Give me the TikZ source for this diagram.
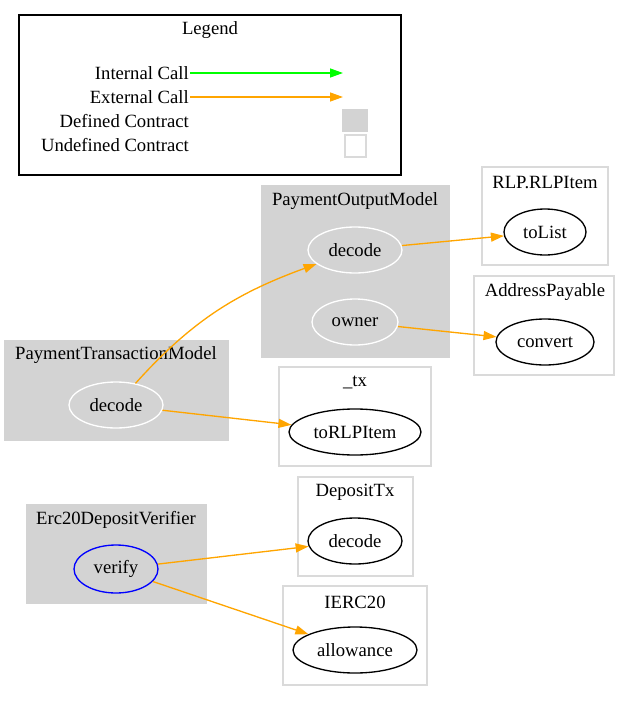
\documentclass[tikz,border=0pt]{standalone}
\usepackage{fontspec}
\setmainfont{Liberation Serif}
\usetikzlibrary{shapes.geometric,arrows.meta}
\definecolor{clgray}{RGB}{211,211,211}
\definecolor{bdgray}{RGB}{218,218,218}
\definecolor{extorange}{RGB}{255,165,0}
\definecolor{intgreen}{RGB}{0,255,0}
\tikzset{
  defined/.style={fill=clgray, draw=clgray},
  undefined/.style={draw=bdgray, fill=white, line width=1.33pt},
  fn/.style={ellipse, draw=black, line width=1.33pt, inner sep=0pt, minimum height=46pt},
  infn/.style={fn, draw=white},
  call/.style={-{Triangle[length=13pt,width=9pt]}, line width=1.33pt},
  ext/.style={call, extorange},
}

\begin{document}
\begin{tikzpicture}[x=1pt, y=-1pt, font=\fontsize{18.67}{22}\selectfont]

    \useasboundingbox (0,0) rectangle (620,701);

    % legend
    \draw[black, line width=1.33pt] (19,15) rectangle (401,175);
    \node (legtitle) at (210,30) {Legend};
    \node[anchor=east, inner sep=1pt] (lint) at (190,73) {Internal Call};
    \node[anchor=east, inner sep=1pt] (lext) at (190,97) {External Call};
    \node[anchor=east, inner sep=1pt] (ldef) at (190,121) {Defined Contract};
    \node[anchor=east, inner sep=1pt] (lund) at (190,145) {Undefined Contract};
    \coordinate (lintend) at (343,73);
    \coordinate (lextend) at (343,97);
    \draw[call, intgreen] (lint.east) -- (lintend);
    \draw[ext] (lext.east) -- (lextend);
    \fill[clgray] (342,109) rectangle (368,132);
    \draw[undefined] (345,135) rectangle (366,157);

    % contracts
    \draw[defined] (261,185) rectangle (449,357);
    \node (pomtitle) at (355,201) {PaymentOutputModel};
    \node[infn, minimum width=94pt] (pomdecode) at (355,250) {decode};
    \node[infn, minimum width=86pt] (pomowner) at (355,322) {owner};

    \draw[undefined] (482,167) rectangle (608,265);
    \node (rlptitle) at (545,183) {RLP.RLPItem};
    \node[fn, minimum width=82pt] (tolist) at (545,232) {toList};

    \draw[undefined] (474,276) rectangle (614,375);
    \node (addrtitle) at (545,292) {AddressPayable};
    \node[fn, minimum width=98pt] (convert) at (545,342) {convert};

    \draw[defined] (4,340) rectangle (228,440);
    \node (ptmtitle) at (116,355) {PaymentTransactionModel};
    \node[infn, minimum width=94pt] (ptmdecode) at (116,405) {decode};

    \draw[undefined] (279,367) rectangle (431,466);
    \node (txtitle) at (355,382) {\_tx};
    \node[fn, minimum width=132pt] (torlp) at (355,432) {toRLPItem};

    \draw[defined] (26,504) rectangle (206,603);
    \node (edvtitle) at (116,520) {Erc20DepositVerifier};
    \node[fn, draw=blue, minimum width=84pt, minimum height=48pt] (verify) at (116,569) {verify};

    \draw[undefined] (298,477) rectangle (413,576);
    \node (dtxtitle) at (355,492) {DepositTx};
    \node[fn, minimum width=94pt] (dtxdecode) at (355,541) {decode};

    \draw[undefined] (283,586) rectangle (427,685);
    \node (ierctitle) at (355,602) {IERC20};
    \node[fn, minimum width=124pt] (allowance) at (355,650) {allowance};

    % calls
    \draw[ext] (ptmdecode) to[out=48, in=200] (pomdecode);
    \draw[ext] (ptmdecode) -- (torlp);
    \draw[ext] (pomdecode) -- (tolist);
    \draw[ext] (pomowner) -- (convert);
    \draw[ext] (verify) -- (dtxdecode);
    \draw[ext] (verify) -- (allowance);

\end{tikzpicture}
\end{document}
